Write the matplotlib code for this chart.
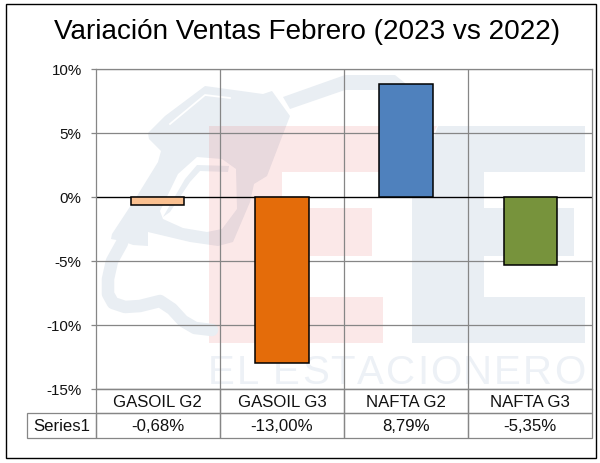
import matplotlib
matplotlib.use('Agg')
from matplotlib import pyplot as plt
from matplotlib.patches import Polygon, Rectangle

categories=['GASOIL G2','GASOIL G3','NAFTA G2','NAFTA G3']
values=[-0.68,-13.00,8.79,-5.35]
value_labels=['-0,68%','-13,00%','8,79%','-5,35%']
bar_colors=['#FAC090','#E46C0A','#4F81BD','#77933C']
series_name='Series1'
yticks=[-15,-10,-5,0,5,10]
title='Variación Ventas Febrero (2023 vs 2022)'
watermark='EL ESTACIONERO'

W,H=600,464
GRID='#868686'
PALE_BLUE='#E9EEF3'

plt.rcParams['font.family']=['Liberation Sans','DejaVu Sans']
fig=plt.figure(figsize=(W/100,H/100),dpi=100)

# pixel layer for the logo behind the chart and the outer frame
bg=fig.add_axes([0,0,1,1],zorder=0)
bg.set_xlim(0,W)
bg.set_ylim(H,0)
bg.axis('off')
bg.add_patch(Rectangle((5.5,4.5),590.5,454.5,fc='white',ec='black',lw=1))

# blue E
bg.add_patch(Polygon([(438,127),(585,127),(585,173),(484,173),(484,209),(574,209),(574,257),(484,257),
                      (484,298),(585,298),(585,344),(412,344),(412,197)],fc=PALE_BLUE,ec='none'))
# nozzle body
body=[(205,87),(263,95),(272,92),(290,117),(280,143),(267,177),(254,185),(250,203),(233,243),(218,247),
      (190,243),(148,233),(148,247),(133,246),(122,242),(111,240),(112,235),(137,197),(158,163),(161,152),
      (149,140),(148,134),(165,117)]
bg.add_patch(Polygon(body,fc=PALE_BLUE,ec='none'))
# opening of the grip, with the lever left in it
grip=[(197,158),(222,160),(236,170),(237,210),(222,230),(207,233),(183,229),(163,220),(160,212),(178,175)]
bg.add_patch(Polygon(grip,fc='white',ec='none'))
lever=[(229,167),(197,166),(185,180),(163,218),(170,213),(190,183),(200,172),(228,173)]
bg.add_patch(Polygon(lever,fc=PALE_BLUE,ec='none'))
# highlight on top of the nozzle
bg.plot([170,205,230],[125,96,99],color='white',lw=1.3)
# spout
bg.add_patch(Polygon([(283,98),(345,76),(395,76),(405,84),(407,91),(345,91),(290,110)],fc=PALE_BLUE,ec='none'))
# hose
bg.plot([122,112,108,108,113,125,140,160,172,183,195,212],
        [244,262,280,295,304,308,307,302,310,322,329,331],
        color=PALE_BLUE,lw=9,solid_capstyle='round',solid_joinstyle='round')
# red E goes over the nozzle so it shows through
bg.add_patch(Polygon([(209,127),(437,127),(414,173),(282,173),(282,209),(372,209),(372,257),(282,257),
                      (282,298),(383,298),(383,344),(209,344)],fc='#E02020',alpha=0.1,ec='none'))

# logo lettering, spaced out to the width of the E's
wm=[bg.text(0,384,c,fontsize=29,color='#EDF1F6',va='baseline',ha='left') for c in watermark]
fig.canvas.draw()
renderer=fig.canvas.get_renderer()
widths=[t.get_window_extent(renderer).width if c!=' ' else 10 for t,c in zip(wm,watermark)]
gap=(585-208-sum(widths))/(len(watermark)-1)
x=208
for t,w in zip(wm,widths):
    t.set_x(x)
    x+=w+gap

# chart
ax=fig.add_axes([95.7/W,1-389.7/H,496.6/W,320.2/H],zorder=1)
ax.patch.set_visible(False)
xpos=list(range(len(categories)))
ax.bar(xpos,values,width=0.43,color=bar_colors,edgecolor='black',linewidth=1.1,zorder=3)
ax.axhline(0,color='black',lw=0.9,zorder=2.5)
ax.set_xlim(-0.5,3.5)
ax.set_ylim(-15,10)
ax.set_yticks(yticks)
ax.set_yticklabels([f'{v}%' for v in yticks],fontsize=10.9,color='#111111')
ax.set_xticks([0.5,1.5,2.5])
ax.tick_params(axis='x',length=0,labelbottom=False)
ax.tick_params(axis='y',length=3.6,width=0.9,color=GRID,pad=6.5)
ax.grid(True,color=GRID,lw=0.9,zorder=1)
ax.set_axisbelow(True)
for s in ax.spines.values():
    s.set_color(GRID)
    s.set_linewidth(0.9)

# data table under the plot, bbox only covers the value columns
label_w=67.2/496.6
row_h=24.65/320.2
tb=ax.table(cellText=[value_labels],rowLabels=[series_name],colLabels=categories,cellLoc='center',rowLoc='center',
            colWidths=[0.25]*4,bbox=[0,-2*row_h,1,2*row_h])
tb.auto_set_font_size(False)
for (r,c),cell in tb.get_celld().items():
    cell.set_edgecolor(GRID)
    cell.set_linewidth(0.9)
    cell.set_facecolor('none')
    cell.set_text_props(fontsize=12.1,color='#111111')
    if c==-1:
        cell.set_width(label_w)
        cell.get_text().set_ha('center')

fig.text(307/W,1-32.5/H,title,fontsize=20.05,ha='center',va='center',color='black')

fig.savefig('out.png',dpi=100)
